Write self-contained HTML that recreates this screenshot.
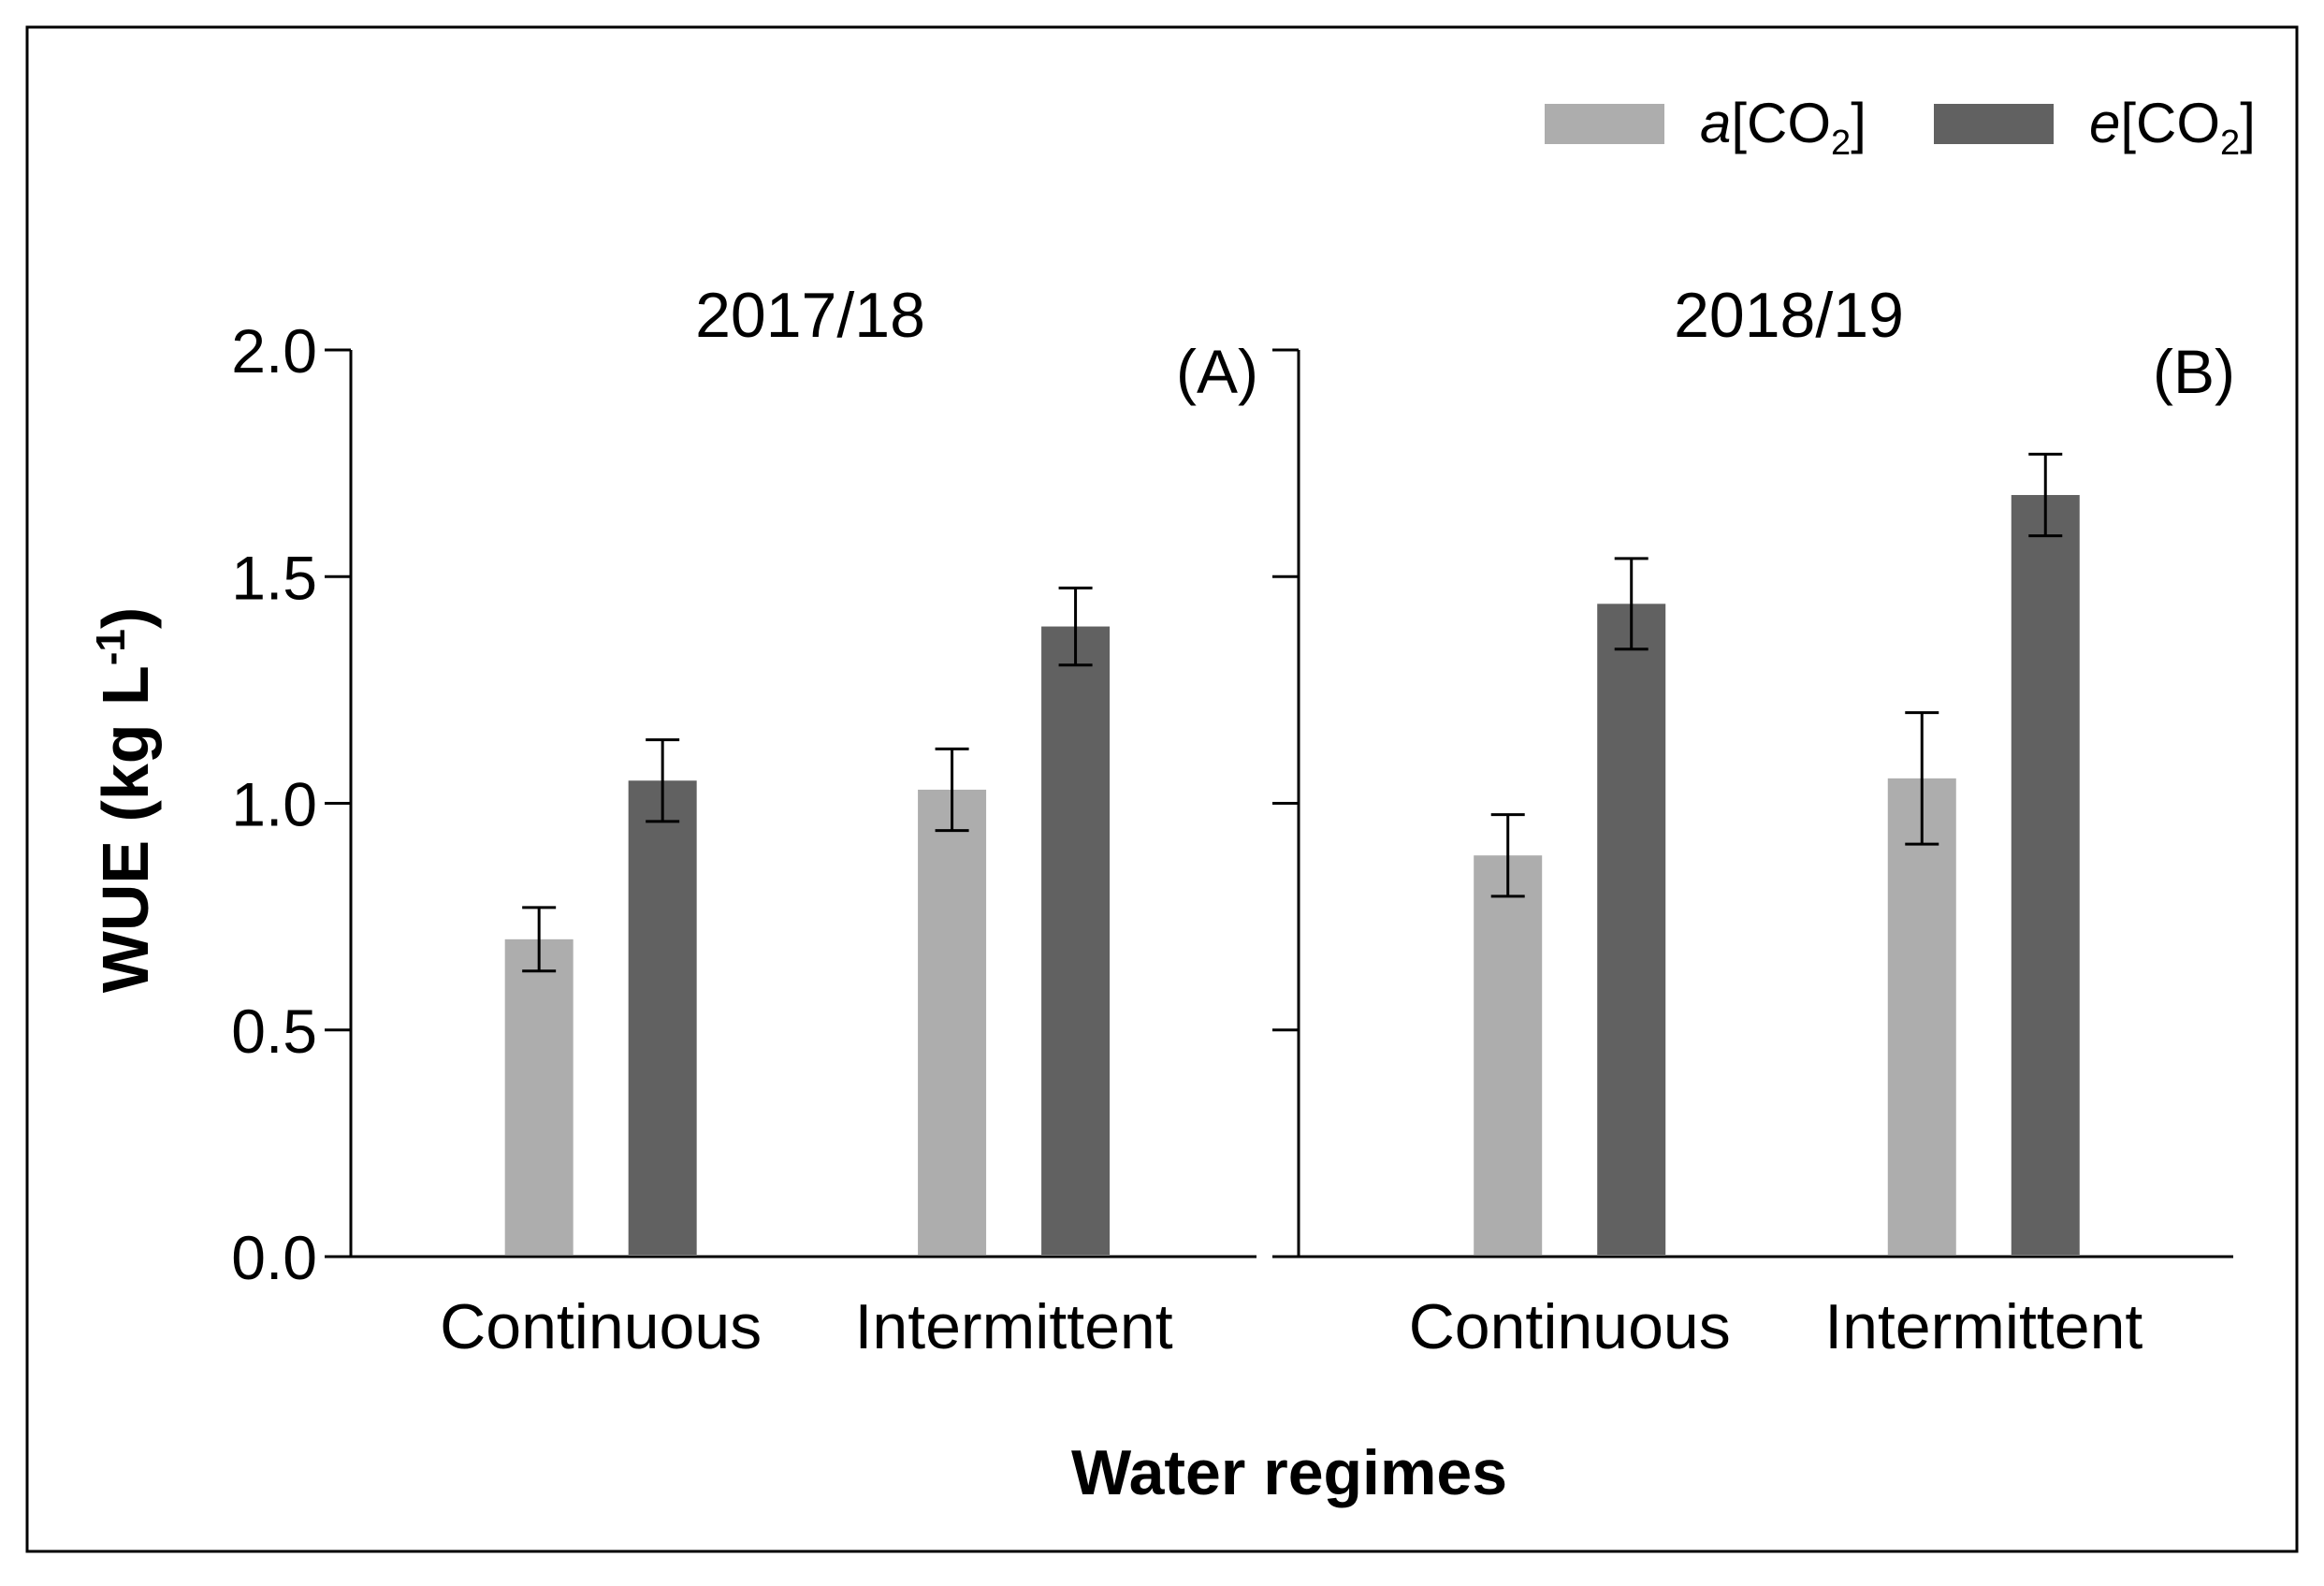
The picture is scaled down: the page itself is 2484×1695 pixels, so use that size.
<!DOCTYPE html>
<html><head><meta charset="utf-8"><style>
html,body{margin:0;padding:0;background:#fff}
svg{display:block;font-family:"Liberation Sans",sans-serif}
</style></head><body>
<svg id="chart" width="2484" height="1695" viewBox="0 0 2484 1695">
<rect x="29" y="29" width="2426" height="1629" fill="none" stroke="#000" stroke-width="3"/>
<g>
<rect x="1651" y="111" width="128" height="43" fill="#adadad"/>
<text x="1817" y="152" font-size="60"><tspan font-style="italic">a</tspan>[CO<tspan font-size="38" dy="13">2</tspan><tspan dy="-13">]</tspan></text>
<rect x="2067" y="111" width="128" height="43" fill="#616161"/>
<text x="2233" y="152" font-size="60"><tspan font-style="italic">e</tspan>[CO<tspan font-size="38" dy="13">2</tspan><tspan dy="-13">]</tspan></text>
</g>
<text x="158" y="855" font-size="70" font-weight="bold" text-anchor="middle" transform="rotate(-90 158 855)">WUE (kg L<tspan font-size="44" dy="-25">-1</tspan><tspan dy="25">)</tspan></text>
<text x="1378" y="1597" font-size="68" font-weight="bold" text-anchor="middle">Water regimes</text>
<g id="plots"></g>
</svg>
<script>
const categories = ["Continuous", "Intermittent"];
const panelTitles = ["2017/18", "2018/19"];
const panelLabels = ["(A)", "(B)"];
const ambientA = [0.70, 1.03];
const elevatedA = [1.05, 1.39];
const ambientErrA = [0.07, 0.09];
const elevatedErrA = [0.09, 0.085];
const ambientB = [0.885, 1.055];
const elevatedB = [1.44, 1.68];
const ambientErrB = [0.09, 0.145];
const elevatedErrB = [0.10, 0.09];
const yTicks = [0, 0.5, 1.0, 1.5, 2.0];
const yTickLabels = ["0.0", "0.5", "1.0", "1.5", "2.0"];

const NS = "http://www.w3.org/2000/svg";
const g = document.getElementById("plots");
const y0 = 1343, yTop = 374, yMax = 2.0;
function yS(v){ return y0 - (v / yMax) * (y0 - yTop); }
function mk(tag, attrs, parent){
  const e = document.createElementNS(NS, tag);
  for (const k in attrs) e.setAttribute(k, attrs[k]);
  (parent || g).appendChild(e);
  return e;
}
const panels = [
  {x0:375, x1:1343, amb:ambientA, ele:elevatedA, ae:ambientErrA, ee:elevatedErrA, showLabels:true, frac:[0.276, 0.732], tx:866},
  {x0:1388, x1:2387, amb:ambientB, ele:elevatedB, ae:ambientErrB, ee:elevatedErrB, showLabels:false, frac:[0.290, 0.733], tx:1912}
];
const barW = 73, gap = 59;
panels.forEach((p, pi) => {
  const W = p.x1 - p.x0;
  function xC(i){ return p.x0 + p.frac[i] * W; }
  const ax = mk("line", {x1:p.x0, y1:yTop, x2:p.x0, y2:y0+1.5, stroke:"#000", "stroke-width":3});
  
  
  const bx = mk("line", {x1:p.x0-28, y1:y0, x2:p.x1, y2:y0, stroke:"#000", "stroke-width":3});
  
  
  yTicks.forEach((t, ti) => {
    const tk = mk("line", {x1:p.x0-28, y1:yS(t), x2:p.x0, y2:yS(t), stroke:"#000", "stroke-width":3});
    
    
    if (p.showLabels) {
      const tl = mk("text", {x:p.x0-36, y:yS(t)+24, "font-size":66, "text-anchor":"end"});
      tl.textContent = yTickLabels[ti];
      
      
    }
  });
  const tt = mk("text", {x:p.tx, y:360, "font-size":68, "text-anchor":"middle"});
  tt.textContent = panelTitles[pi];
  
  
  const pl = mk("text", {x:p.x1+2, y:420, "font-size":66, "text-anchor":"end"});
  pl.textContent = panelLabels[pi];
  
  
  categories.forEach((c, i) => {
    const cx = xC(i);
    const series = [
      {v:p.amb[i], e:p.ae[i], fill:"#adadad", x:cx - gap/2 - barW, n:'bar-ambient'},
      {v:p.ele[i], e:p.ee[i], fill:"#616161", x:cx + gap/2, n:'bar-elevated'}
    ];
    series.forEach(s => {
      const r = mk("rect", {x:s.x, y:yS(s.v), width:barW, height:y0 - 2 - yS(s.v), fill:s.fill});
      
      
      const mx = s.x + barW/2;
      const eg = mk("g", {stroke:"#000", "stroke-width":3});
      
      
      mk("line", {x1:mx, y1:yS(s.v+s.e), x2:mx, y2:yS(s.v-s.e)}, eg);
      mk("line", {x1:mx-18, y1:yS(s.v+s.e), x2:mx+18, y2:yS(s.v+s.e)}, eg);
      mk("line", {x1:mx-18, y1:yS(s.v-s.e), x2:mx+18, y2:yS(s.v-s.e)}, eg);
    });
    const cl = mk("text", {x:cx, y:1441, "font-size":68, "text-anchor":"middle"});
    cl.textContent = c;
    
    
  });
});
</script>
</body></html>
